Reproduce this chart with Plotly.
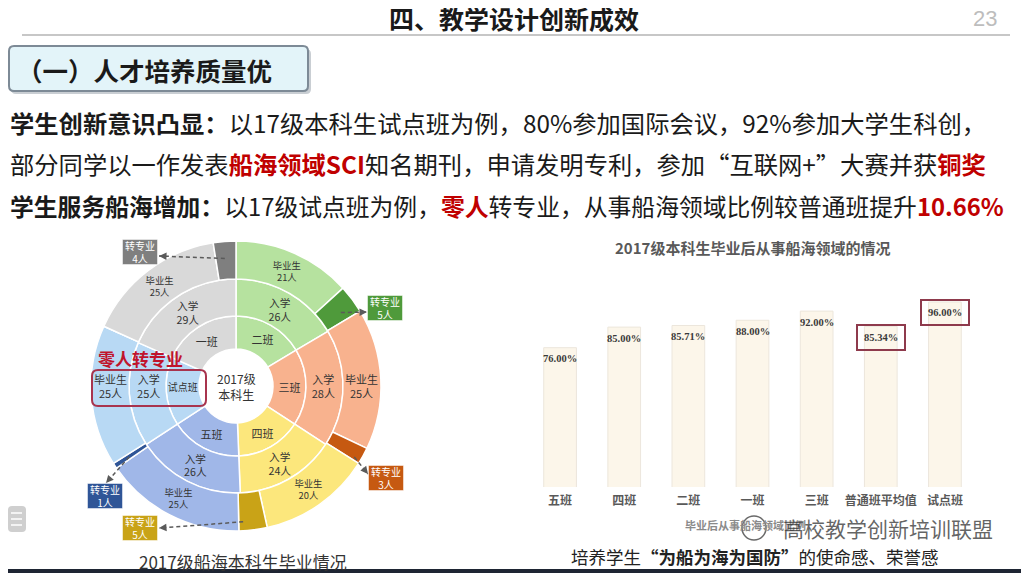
import math
import plotly.graph_objects as go

# The page body adds an 8px margin, so the figure is drawn 8px smaller and
# every reference pixel position is shifted by that offset.
OFF = 8
W, H = 1029 - OFF, 573 - OFF
FONT = "Noto Sans CJK SC"

# ---------------- data ----------------
classes = ["二班", "三班", "四班", "五班", "试点班", "一班"]
enrolled = [26, 28, 24, 26, 25, 29]
graduates = [21, 25, 20, 25, 25, 25]
transfers = [5, 3, 5, 1, 0, 4]

light_colors = ["#B6E29F", "#F8B28E", "#FCE77C", "#A0B7E8", "#B8D9F4", "#D9D9D9"]
dark_colors = ["#4F9A3B", "#C65911", "#C9A317", "#2F5597", "#5B9BD5", "#7F7F7F"]

bar_categories = ["五班", "四班", "二班", "一班", "三班", "普通班平均值", "试点班"]
bar_values = [76.00, 85.00, 85.71, 88.00, 92.00, 85.34, 96.00]
highlighted = ["普通班平均值", "试点班"]


def X(px):
    return (px - OFF) / W


def Y(py):
    return 1 - (py - OFF) / H


# ---------------- sunburst-like rings (pies) ----------------
CX, CY = 236, 386
R_HOLE, R_IN, R_MID, R_OUT = 37, 70, 107, 145


def dom(r):
    return dict(x=[X(CX - r), X(CX + r)], y=[Y(CY + r), Y(CY - r)])


fig = go.Figure()

common = dict(sort=False, direction="clockwise", rotation=0, hoverinfo="skip",
              textinfo="text", textposition="inside",
              insidetextorientation="horizontal", showlegend=False)
ring_font = dict(family=FONT, size=11, color="#333333")

fig.add_trace(go.Pie(
    labels=[c + "-in" for c in classes], values=enrolled, text=classes,
    domain=dom(R_IN), hole=R_HOLE / R_IN,
    marker=dict(colors=light_colors, line=dict(color="white", width=1.5)),
    textfont=ring_font, **common))

fig.add_trace(go.Pie(
    labels=[c + "-mid" for c in classes], values=enrolled,
    text=[f"入学<br>{v}人" for v in enrolled],
    domain=dom(R_MID), hole=R_IN / R_MID,
    marker=dict(colors=light_colors, line=dict(color="white", width=1.5)),
    textfont=ring_font, **common))

out_labels, out_values, out_text, out_colors = [], [], [], []
for c, g, t, lc, dc in zip(classes, graduates, transfers, light_colors, dark_colors):
    out_labels += [c + "-grad", c + "-trans"]
    out_values += [g, t]
    out_text += [f"毕业生<br>{g}人", ""]
    out_colors += [lc, dc]

fig.add_trace(go.Pie(
    labels=out_labels, values=out_values, text=out_text,
    domain=dom(R_OUT), hole=R_MID / R_OUT,
    marker=dict(colors=out_colors, line=dict(color="white", width=1.5)),
    textfont=ring_font, **common))

# ---------------- bar chart ----------------
fig.add_trace(go.Bar(
    x=bar_categories, y=bar_values, xaxis="x", yaxis="y",
    marker=dict(color="#FCF6EA", line=dict(color="#ECE6DC", width=1)),
    hoverinfo="skip", showlegend=False))

annotations = []
shapes = []

for cat, v in zip(bar_categories, bar_values):
    boxed = cat in highlighted
    annotations.append(dict(
        x=cat, y=v, xref="x", yref="y", text=f"{v:.2f}%", showarrow=False,
        xanchor="center", yanchor="middle", yshift=-11,
        font=dict(family="Liberation Serif", size=10.5, color="#3A3A3A", weight="bold"),
        bordercolor="#8E3A4C" if boxed else "rgba(0,0,0,0)",
        borderwidth=2 if boxed else 0, borderpad=6 if boxed else 0))


# ---------------- page texts ----------------
def txt(x, y, s, size, color="#222222", xanchor="center", bold=False, family=FONT, **kw):
    annotations.append(dict(x=X(x), y=Y(y), xref="paper", yref="paper", text=s,
                            showarrow=False, xanchor=xanchor, yanchor="middle",
                            font=dict(family=family, size=size, color=color,
                                      weight="bold" if bold else "normal"), **kw))


RED = "#C00000"
txt(514, 18, "四、教学设计创新成效", 25, "#1A1A1A", bold=True)
txt(985, 18, "23", 22, "#BDBDBD", family="Liberation Sans")
txt(15, 70, "（一）人才培养质量优", 25.5, "#1A1A1A", xanchor="left", bold=True)

txt(8, 122, "<b>学生创新意识凸显：</b>以17级本科生试点班为例，80%参加国际会议，92%参加大学生科创，",
    24.3, "#1A1A1A", xanchor="left")
txt(8, 163, f"部分同学以一作发表<b><span style='color:{RED}'>船海领域SCI</span></b>知名期刊，申请发明专利，参加“互联网+”大赛并获<b><span style='color:{RED}'>铜奖</span></b>",
    24.3, "#1A1A1A", xanchor="left")
txt(8, 205, f"<b>学生服务船海增加：</b>以17级试点班为例，<b><span style='color:{RED}'>零人</span></b>转专业，从事船海领域比例较普通班提升<b><span style='color:{RED}'>10.66%</span></b>",
    23.8, "#1A1A1A", xanchor="left")

txt(CX, CY, "2017级<br>本科生", 12, "#333333")
txt(243, 561, "2017级船海本科生毕业情况", 17, "#333333")
txt(140, 358, "零人转专业", 17, "#C0142C", bold=True)

txt(752, 247, "2017级本科生毕业后从事船海领域的情况", 15, "#595959", bold=True)
txt(745, 525, "毕业后从事船海领域比例", 11, "#8A8A8A", bold=True)
txt(888, 528, "高校教学创新培训联盟", 21, "rgba(50,50,50,0.75)")
txt(755, 556, "培养学生<b>“为船为海为国防”</b>的使命感、荣誉感", 17.5, "#222222")

# ---------------- transfer call-outs ----------------
box_pos = {"一班": (140, 252), "二班": (385, 308), "三班": (386, 478),
           "四班": (140, 528), "五班": (105, 496)}
arrow_spec = {"一班": (355, 128, (159, 256)), "二班": (55, 128, (367, 312)),
              "三班": (121, 138, (368, 474)), "四班": (177, 136, (159, 528)),
              "五班": (236.5, 128, (106, 483))}

for c, t, dc in zip(classes, transfers, dark_colors):
    if c not in box_pos:
        continue
    bx, by = box_pos[c]
    annotations.append(dict(
        x=X(bx), y=Y(by), xref="paper", yref="paper", text=f"转专业<br>{t}人",
        xanchor="center", yanchor="middle",
        showarrow=False, width=34, height=24, bgcolor=dc,
        bordercolor="rgba(255,255,255,0.5)", borderwidth=1, borderpad=0,
        font=dict(family=FONT, size=10, color="white")))
    ang, r, (hx, hy) = arrow_spec[c]
    tx = CX + r * math.sin(math.radians(ang))
    ty = CY - r * math.cos(math.radians(ang))
    shapes.append(dict(type="line", xref="paper", yref="paper",
                       x0=X(tx), y0=Y(ty), x1=X(hx), y1=Y(hy),
                       line=dict(color="#5A5A5A", width=1.5, dash="4px,3px")))
    d = math.hypot(tx - hx, ty - hy)
    annotations.append(dict(x=X(hx), y=Y(hy), xref="paper", yref="paper", text="",
                            showarrow=True, arrowhead=2, arrowsize=1, arrowwidth=1.5,
                            arrowcolor="#5A5A5A",
                            ax=(tx - hx) / d * 7, ay=(ty - hy) / d * 7))


def rrect(x0, y0, x1, y1, r):
    rx, ry = r / W, r / H
    a, b, c_, d = X(x0), X(x1), Y(y0), Y(y1)  # c_ top, d bottom
    return (f"M{a+rx},{c_} L{b-rx},{c_} Q{b},{c_} {b},{c_-ry} L{b},{d+ry} "
            f"Q{b},{d} {b-rx},{d} L{a+rx},{d} Q{a},{d} {a},{d+ry} L{a},{c_-ry} "
            f"Q{a},{c_} {a+rx},{c_} Z")


shapes += [
    dict(type="line", xref="paper", yref="paper", x0=X(22), x1=X(1010), y0=Y(35), y1=Y(35),
         line=dict(color="#B5B5B5", width=1.5)),
    dict(type="path", xref="paper", yref="paper", path=rrect(11, 49, 311, 94, 5),
         fillcolor="#C9CED3", line=dict(width=0)),
    dict(type="path", xref="paper", yref="paper", path=rrect(9, 46, 308, 91, 5),
         fillcolor="#E3F4F9", line=dict(color="#7D8A96", width=2)),
    dict(type="path", xref="paper", yref="paper", path=rrect(92, 370, 206, 406, 6),
         fillcolor="rgba(0,0,0,0)", line=dict(color="#A8344E", width=2)),
    dict(type="path", xref="paper", yref="paper", path=rrect(8, 506, 26, 532, 4),
         fillcolor="#CFCFCF", line=dict(width=0)),
    dict(type="rect", xref="paper", yref="paper", x0=0, x1=1, y0=Y(573), y1=Y(569),
         fillcolor="#1E2533", line=dict(width=0)),
    dict(type="circle", xref="paper", yref="paper", x0=X(742), x1=X(766), y0=Y(540), y1=Y(516),
         fillcolor="rgba(255,255,255,0.8)", line=dict(color="#6A6A6A", width=1.5)),
]
for yy in (513, 519, 525):
    shapes.append(dict(type="line", xref="paper", yref="paper", x0=X(11), x1=X(22),
                       y0=Y(yy), y1=Y(yy), line=dict(color="white", width=1.5)))

fig.update_layout(
    width=W, height=H, margin=dict(l=0, r=0, t=0, b=0),
    paper_bgcolor="white", plot_bgcolor="white",
    font=dict(family=FONT),
    bargap=0.49,
    xaxis=dict(domain=[X(528), X(977)], showgrid=False, showline=False, zeroline=False,
               ticks="", tickfont=dict(family=FONT, size=12, color="#595959", weight="bold"),
               ticklabelstandoff=5, fixedrange=True),
    yaxis=dict(domain=[Y(487), Y(270)], range=[15, 110], visible=False, fixedrange=True),
    annotations=annotations, shapes=shapes,
)

fig.write_html("out.html")
